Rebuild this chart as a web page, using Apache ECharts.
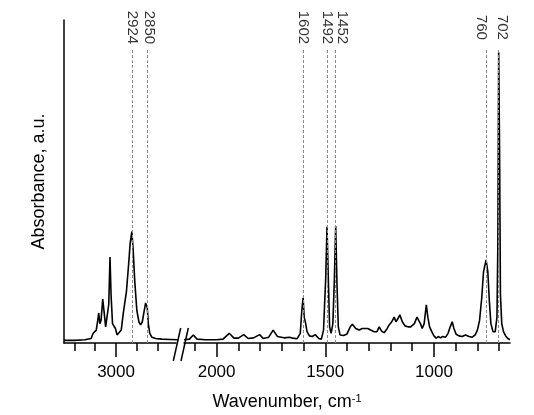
<!DOCTYPE html>
<html>
<head>
<meta charset="utf-8">
<script src="https://cdn.jsdelivr.net/npm/echarts@6/dist/echarts.min.js"></script>
<style>
  html, body { margin: 0; padding: 0; background: #fff; }
  #chart { width: 534px; height: 415px; }
</style>
</head>
<body>
<div id="chart"></div>
<script>
// C-H stretch region (left part of the broken axis)
const highWn = [3250, 3200, 3150, 3120, 3110, 3103, 3095, 3088, 3083, 3078, 3072, 3064, 3058, 3050, 3042, 3035, 3029, 3024, 3017, 3010, 3003, 2995, 2988, 2975, 2965, 2950, 2940, 2932, 2924, 2918, 2910, 2900, 2890, 2882, 2874, 2866, 2858, 2850, 2845, 2838, 2828, 2810, 2780, 2740, 2700];
const highAbs = [0.008, 0.008, 0.010, 0.014, 0.030, 0.036, 0.040, 0.070, 0.093, 0.060, 0.070, 0.136, 0.100, 0.050, 0.045, 0.120, 0.266, 0.150, 0.060, 0.056, 0.045, 0.025, 0.020, 0.040, 0.093, 0.160, 0.240, 0.310, 0.345, 0.290, 0.190, 0.100, 0.065, 0.056, 0.065, 0.095, 0.124, 0.110, 0.060, 0.030, 0.018, 0.014, 0.012, 0.011, 0.010];

// fingerprint region (right part)
const lowWn = [2150, 2125, 2107, 2090, 2050, 2000, 1970, 1942, 1920, 1900, 1875, 1855, 1830, 1802, 1785, 1760, 1740, 1720, 1690, 1664, 1650, 1630, 1615, 1608, 1602, 1597, 1590, 1584, 1573, 1560, 1546, 1530, 1518, 1508, 1498, 1492, 1486, 1480, 1473, 1465, 1458, 1452, 1446, 1440, 1432, 1415, 1400, 1385, 1375, 1360, 1344, 1330, 1321, 1305, 1291, 1275, 1262, 1252, 1240, 1229, 1215, 1206, 1195, 1183, 1175, 1166, 1157, 1145, 1133, 1120, 1107, 1090, 1078, 1072, 1062, 1054, 1045, 1035, 1028, 1020, 1010, 1000, 990, 980, 970, 960, 946, 935, 925, 916, 908, 898, 885, 870, 855, 847, 838, 824, 810, 800, 790, 780, 772, 760, 752, 745, 738, 728, 718, 710, 706, 702, 698, 694, 688, 680, 670, 660, 650];
const lowAbs = [0.010, 0.012, 0.025, 0.012, 0.010, 0.010, 0.012, 0.030, 0.015, 0.015, 0.026, 0.014, 0.016, 0.026, 0.014, 0.018, 0.040, 0.020, 0.016, 0.018, 0.015, 0.013, 0.030, 0.100, 0.140, 0.080, 0.060, 0.035, 0.022, 0.020, 0.026, 0.014, 0.012, 0.040, 0.200, 0.360, 0.200, 0.050, 0.030, 0.060, 0.200, 0.362, 0.180, 0.050, 0.025, 0.023, 0.028, 0.050, 0.058, 0.045, 0.040, 0.045, 0.043, 0.045, 0.040, 0.035, 0.035, 0.050, 0.036, 0.032, 0.045, 0.056, 0.065, 0.080, 0.066, 0.075, 0.087, 0.065, 0.053, 0.050, 0.050, 0.060, 0.080, 0.082, 0.060, 0.045, 0.060, 0.118, 0.080, 0.050, 0.035, 0.022, 0.015, 0.020, 0.016, 0.020, 0.018, 0.030, 0.050, 0.066, 0.045, 0.027, 0.022, 0.020, 0.025, 0.030, 0.020, 0.018, 0.025, 0.040, 0.070, 0.140, 0.220, 0.257, 0.220, 0.130, 0.060, 0.035, 0.035, 0.080, 0.300, 0.900, 0.600, 0.150, 0.060, 0.035, 0.022, 0.014, 0.010];

const highPeaks = [2924, 2850];
const lowPeaks = [1602, 1492, 1452, 760, 702];

const highMajor = [3000];
const highMinor = [3200, 3100, 2900, 2800];
const lowMajor = [2000, 1500, 1000];
const lowMinor = [2100, 1900, 1800, 1700, 1600, 1400, 1300, 1200, 1100, 900, 800, 700];

const FONT = 'Liberation Sans, Arial, sans-serif';
const LINE_TOP = 0.912;
const LABEL_Y = 0.977;
// labels pushed sideways so neighbours do not collide (px, + = right)
const LABEL_NUDGE = { 2850: 2, 1452: 6, 760: -5, 702: 3 };

const zip = (xs, ys) => xs.map((x, i) => [x, ys[i]]);

const chart = echarts.init(document.getElementById('chart'));

/** bottom axis with only some ticks shown */
const makeX = (gridIndex, min, max, values, tickLen, showLine, showLabel) => ({
  type: 'value',
  gridIndex: gridIndex,
  position: 'bottom',
  inverse: true,
  min: min,
  max: max,
  splitLine: { show: false },
  axisLine: { show: showLine, onZero: false, lineStyle: { color: '#000', width: 1.5 } },
  axisTick: { show: true, inside: false, length: tickLen, customValues: values, lineStyle: { color: '#000', width: 1.5 } },
  axisLabel: {
    show: showLabel,
    customValues: values,
    margin: 21,
    color: '#000',
    fontSize: 17,
    fontFamily: FONT,
    formatter: (v) => String(v)
  }
});

const peakLines = (peaks) => ({
  silent: true,
  symbol: ['none', 'none'],
  label: { show: false },
  lineStyle: { color: '#8a8a8a', type: [3, 2], width: 1 },
  animation: false,
  data: peaks.map(p => [{ coord: [p, 0] }, { coord: [p, LINE_TOP] }])
});

// labelLayout shifts in the label's rotated frame: local -y is screen right here
const peakLabels = (peaks, xi, yi) => ({
  type: 'scatter',
  xAxisIndex: xi,
  yAxisIndex: yi,
  symbolSize: 0,
  silent: true,
  data: peaks.map(p => [p, LABEL_Y]),
  label: {
    show: true,
    position: 'inside',
    rotate: -90,
    color: '#000',
    fontSize: 15,
    fontFamily: FONT,
    formatter: (p) => String(p.value[0])
  },
  labelLayout: (params) => ({
    dy: -(LABEL_NUDGE[peaks[params.dataIndex]] || 0),
    hideOverlap: false
  })
});

const spectrum = (xs, ys, xi, yi, peaks) => ({
  type: 'line',
  xAxisIndex: xi,
  yAxisIndex: yi,
  data: zip(xs, ys),
  showSymbol: false,
  symbol: 'none',
  lineStyle: { color: '#000', width: 1.6 },
  markLine: peakLines(peaks),
  z: 3
});

chart.setOption({
  animation: false,
  backgroundColor: '#fff',
  grid: [
    { left: 64, right: 358, top: 20, bottom: 72 },
    { left: 184, right: 24, top: 20, bottom: 72 }
  ],
  xAxis: [
    makeX(0, 2712, 3250, highMajor, 14, true, true),
    makeX(0, 2712, 3250, highMinor, 8, false, false),
    makeX(1, 650, 2150, lowMajor, 14, true, true),
    makeX(1, 650, 2150, lowMinor, 8, false, false)
  ],
  yAxis: [
    {
      type: 'value',
      gridIndex: 0,
      min: 0,
      max: 1,
      name: 'Absorbance, a.u.',
      nameLocation: 'middle',
      nameGap: 16,
      nameTextStyle: { color: '#000', fontSize: 18, fontFamily: FONT },
      splitLine: { show: false },
      axisTick: { show: false },
      axisLabel: { show: false },
      axisLine: { show: true, lineStyle: { color: '#000', width: 1.5 } }
    },
    { type: 'value', gridIndex: 1, min: 0, max: 1, show: false }
  ],
  series: [
    spectrum(highWn, highAbs, 0, 0, highPeaks),
    spectrum(lowWn, lowAbs, 2, 1, lowPeaks),
    peakLabels(highPeaks, 0, 0),
    peakLabels(lowPeaks, 2, 1)
  ],
  graphic: [
    // axis break marks
    { type: 'line', shape: { x1: 180.7, y1: 328, x2: 173.3, y2: 361 }, style: { stroke: '#000', lineWidth: 1.5 } },
    { type: 'line', shape: { x1: 188.3, y1: 328, x2: 181, y2: 361 }, style: { stroke: '#000', lineWidth: 1.5 } },
    {
      type: 'text',
      x: 287,
      y: 402,
      style: {
        text: '{a|Wavenumber, cm}{b|-1}',
        align: 'center',
        verticalAlign: 'middle',
        fill: '#000',
        rich: {
          a: { fontSize: 18, fontFamily: FONT, fill: '#000' },
          b: { fontSize: 11, fontFamily: FONT, fill: '#000', verticalAlign: 'top' }
        }
      }
    }
  ]
});
</script>
</body>
</html>
